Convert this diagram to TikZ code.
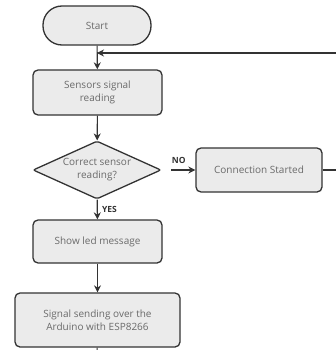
\documentclass[tikz,border=0pt]{standalone}
\usepackage{fontspec}
\setmainfont{Open Sans}
\usepackage{tikz}
\usetikzlibrary{arrows.meta,shapes.geometric}

\definecolor{boxfill}{HTML}{EBEBEB}
\definecolor{boxline}{HTML}{333333}
\definecolor{boxtext}{HTML}{6A6A6A}

\tikzset{
  block/.style={draw=boxline, fill=boxfill, line width=1.3pt, rounded corners=5pt,
    text=boxtext, font=\fontsize{10}{13}\selectfont, align=center, inner sep=0pt},
  decision/.style={block, diamond, aspect=2.2, inner sep=-2pt, rounded corners=2pt,
    minimum width=128pt, minimum height=58pt},
  flow/.style={draw=boxline, line width=1.1pt, -{Stealth[length=7pt,width=7pt]}},
  answer/.style={text=boxline, font=\fontsize{8.5}{10}\selectfont\bfseries}
}

\begin{document}
\begin{tikzpicture}[x=1pt, y=-1pt]
            \clip (0, 0) rectangle (336, 350);
            \fill[white] (0, 0) rectangle (336, 350);

            \node[block, rounded corners=19pt, minimum width=108pt, minimum height=39pt] (start) at (97, 25.5) {Start};
            \node[block, minimum width=129pt, minimum height=45pt] (sensors) at (97.5, 92.5) {Sensors signal\\reading};
            \node[decision] (check) at (97, 170) {Correct sensor\\reading?};
            \node[block, minimum width=126pt, minimum height=44pt] (conn) at (259, 170) {Connection Started};
            \node[block, minimum width=129pt, minimum height=43pt] (led) at (97.5, 241.5) {Show led message};
            \node[block, minimum width=165pt, minimum height=54pt] (send) at (97.5, 320) {Signal sending over the\\Arduino with ESP8266};

            \coordinate (join) at (97, 53);
            \coordinate (out) at (97, 356);

            \draw[flow] (171, 170) -- (conn) node[answer, pos=0.32, above=3pt] {NO};
            \draw[flow] (conn.east) -- (346, 170) -- (346, 53) -- (join);
            \draw[flow] (start) -- (sensors);
            \draw[flow] (sensors) -- (check);
            \draw[flow] (check) -- (led) node[answer, midway, right=1pt] {YES};
            \draw[flow] (led) -- (send);
            \draw[line width=1.1pt, draw=boxline] (send) -- (out);
        \end{tikzpicture}
\end{document}
